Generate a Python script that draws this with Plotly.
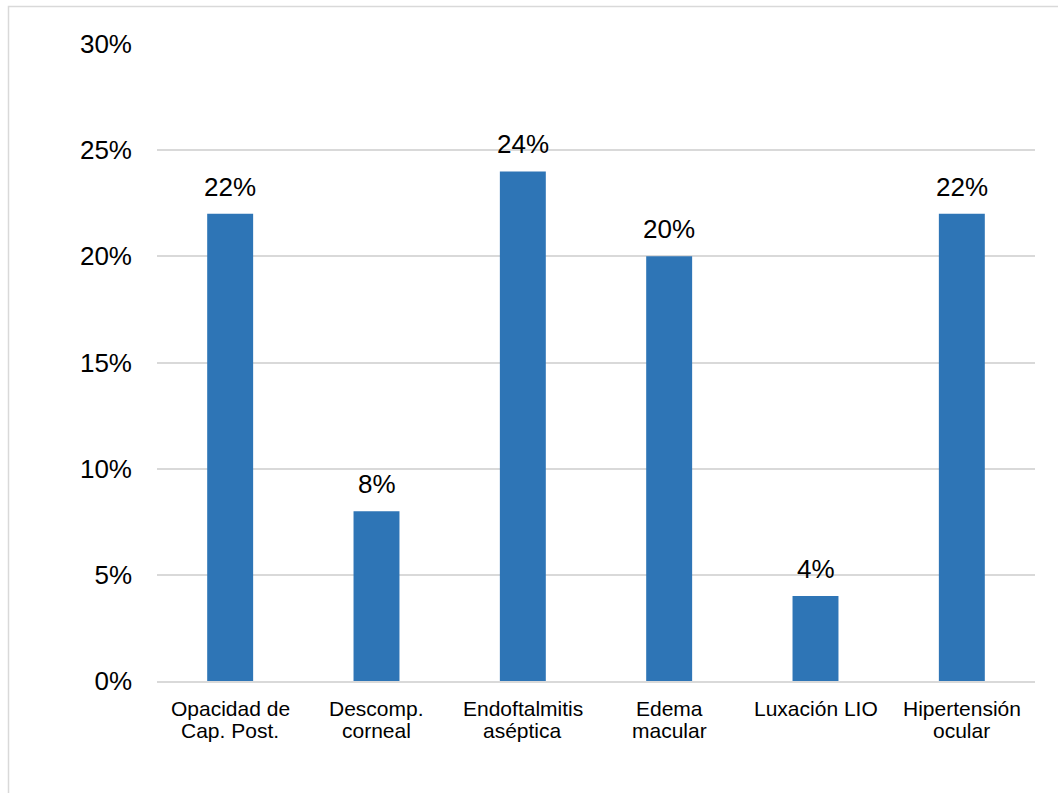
import plotly.graph_objects as go

categories = ["Opacidad de<br>Cap. Post.", "Descomp.<br>corneal", "Endoftalmitis<br>aséptica",
              "Edema<br>macular", "Luxación LIO", "Hipertensión<br>ocular"]
values = [0.22, 0.08, 0.24, 0.20, 0.04, 0.22]
labels = ["22%", "8%", "24%", "20%", "4%", "22%"]
tick_vals = [0, 0.05, 0.10, 0.15, 0.20, 0.25, 0.30]
tick_text = ["0%", "5%", "10%", "15%", "20%", "25%", "30%"]

W, H = 1058, 793
ml, mr, mt, mb = 157, 23, 44, 112
FONT = "Liberation Sans, Arial"

fig = go.Figure(go.Bar(
    x=categories, y=values,
    marker=dict(color="#2E75B6", line=dict(width=0)),
))

# data labels above bars
for c, v, t in zip(categories, values, labels):
    fig.add_annotation(x=c, y=v, text=t, showarrow=False, yanchor="middle",
                       yshift=27, font=dict(size=26, color="#000000", family=FONT))

# category labels (tighter line spacing than Plotly's default)
for c in categories:
    for i, line in enumerate(c.split("<br>")):
        fig.add_annotation(x=c, y=0, text=line, showarrow=False, yanchor="middle",
                           yshift=-27 - 22 * i,
                           font=dict(size=21, color="#000000", family=FONT))

pw = W - ml - mr
ph = H - mt - mb
fig.add_shape(type="rect", xref="paper", yref="paper",
              x0=(8.5 - ml) / pw, x1=(W + 10 - ml) / pw,
              y0=-(H + 10 - mt - ph) / ph, y1=1 + (mt - 6.5) / ph,
              line=dict(color="#d9d9d9", width=1.5), layer="below")

fig.update_layout(
    width=W, height=H,
    margin=dict(l=ml, r=mr, t=mt, b=mb),
    paper_bgcolor="white", plot_bgcolor="white",
    bargap=0.686,
    showlegend=False,
    font=dict(family=FONT, color="#000000"),
    xaxis=dict(showline=True, linecolor="#d9d9d9", linewidth=1.5,
               showticklabels=False, ticks="", showgrid=False),
    yaxis=dict(range=[0, 0.30], tickvals=tick_vals, ticktext=tick_text,
               tickfont=dict(size=26), showgrid=True, gridcolor="#d9d9d9",
               gridwidth=1.5, zeroline=False, showline=False,
               ticklabelstandoff=24),
)

fig.write_html("out.html")
